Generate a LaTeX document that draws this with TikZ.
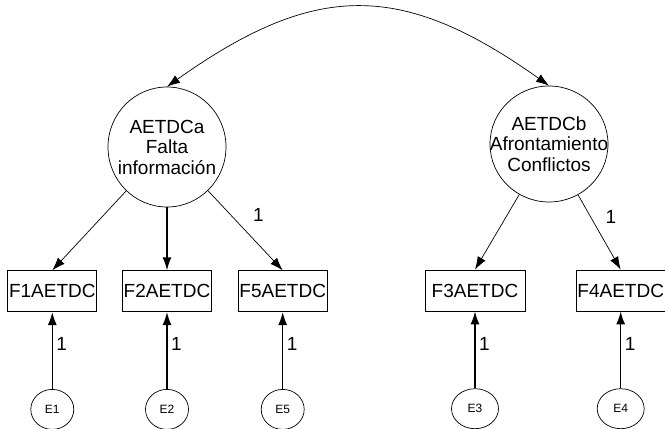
\documentclass[tikz,border=0pt]{standalone}
\usepackage{fontspec}
\setmainfont{Liberation Sans}
\usetikzlibrary{arrows.meta,shapes.geometric,positioning}
\tikzset{every picture/.style={line width=0.7pt}}

\begin{document}
\begin{tikzpicture}[x=1pt, y=-1pt, font=\fontsize{19}{20.5}\selectfont, >={Latex[length=13pt,width=9pt]},
    latent/.style={draw, ellipse, inner sep=-30pt, align=center, minimum width=118pt, minimum height=120pt},
    observed/.style={draw, rectangle, inner sep=0pt, minimum width=89pt, minimum height=41pt},
    errorvar/.style={draw, ellipse, inner sep=0pt, minimum width=43pt, minimum height=40pt, font=\fontsize{12}{14}\selectfont},
    loading/.style={->},
    residual/.style={->, line width=1.5pt}]
    \useasboundingbox (0,0) rectangle (665,429);

    \node[latent] (AETDCa) at (167,147) {AETDCa \\ Falta \\ información};
    \node[latent, minimum height=116pt] (AETDCb) at (549,144) {AETDCb \\ Afrontamiento \\ Conflictos};

    \node[observed, below=63pt of AETDCa] (F2) {F2AETDC};
    \node[observed, left=25pt of F2] (F1) {F1AETDC};
    \node[observed, right=26pt of F2] (F5) {F5AETDC};
    \node[observed, minimum width=100pt] (F3) at (475,290.5) {F3AETDC};
    \node[observed, right=50.5pt of F3] (F4) {F4AETDC};

    \node[errorvar, below=77pt of F1] (E1) {E1};
    \node[errorvar, below=77pt of F2] (E2) {E2};
    \node[errorvar, below=77pt of F5] (E5) {E5};
    \node[errorvar, minimum width=47pt, below=77pt of F3] (E3) {E3};
    \node[errorvar, minimum width=47pt, below=77pt of F4] (E4) {E4};

    \draw[<->] (AETDCa.north) .. controls +(148,-105) and +(-148,-105) .. (AETDCb.north);

    \draw[loading] (AETDCa) -- (F1.north);
    \draw[loading, line width=1.5pt] (AETDCa) -- (F2);
    \draw[loading] (AETDCa) -- node[pos=0.3, xshift=28pt] {1} (F5.north);
    \draw[loading] (AETDCb) -- (F3.north);
    \draw[loading] (AETDCb) -- node[pos=0.3, xshift=20pt] {1} (F4.north);

    \draw[residual] (E1) -- node[right, pos=0.58] {1} (F1);
    \draw[residual] (E2) -- node[right, pos=0.58] {1} (F2);
    \draw[residual] (E5) -- node[right, pos=0.58] {1} (F5);
    \draw[residual] (E3) -- node[right, pos=0.58] {1} (F3);
    \draw[residual] (E4) -- node[right, pos=0.58] {1} (F4);
\end{tikzpicture}
\end{document}
